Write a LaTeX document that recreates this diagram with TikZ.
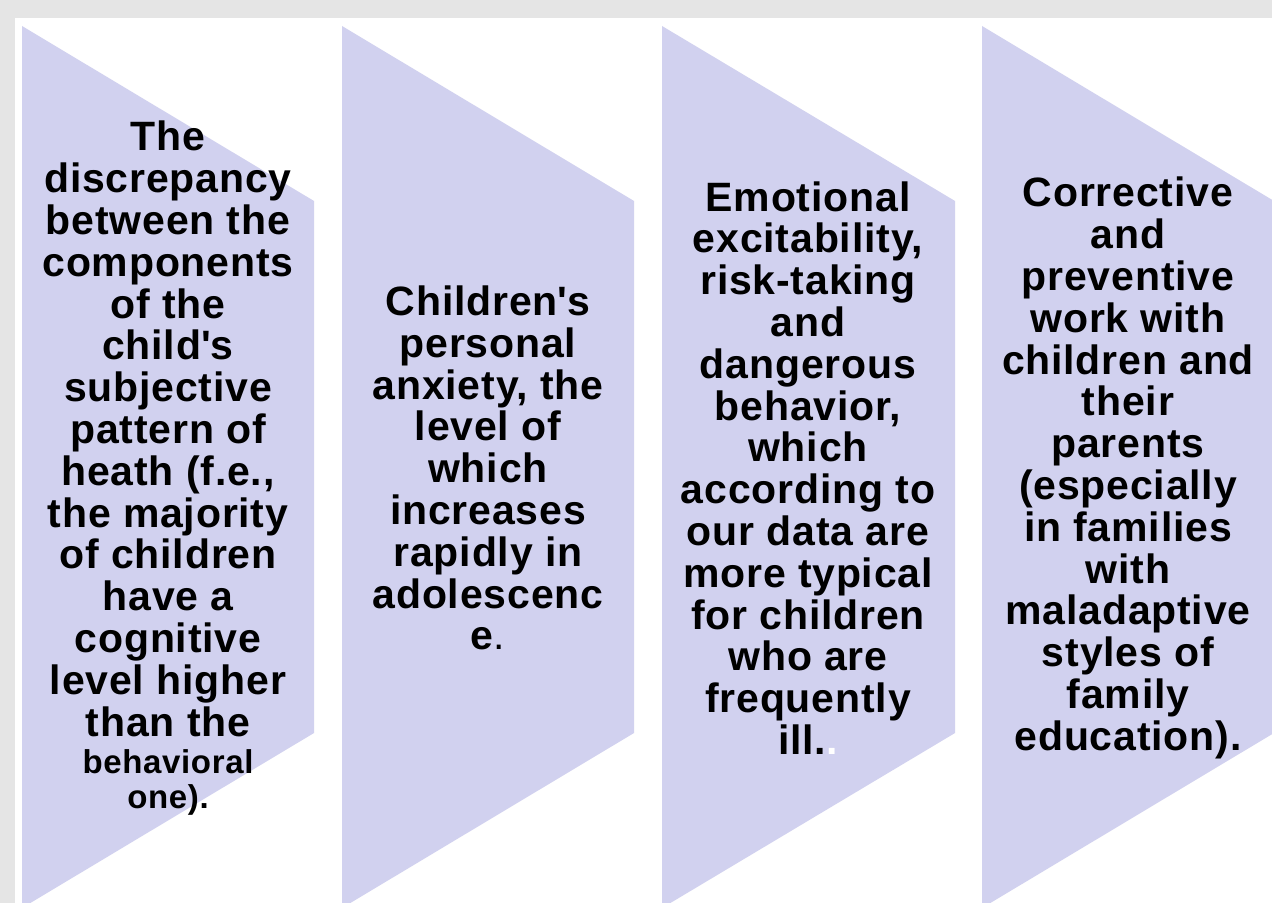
\documentclass[tikz,border=0pt]{standalone}
\usepackage{fontspec}
\setmainfont{Liberation Sans}[LetterSpace=2.0]
\definecolor{chevfill}{RGB}{209,209,239}
\definecolor{framegray}{RGB}{229,229,229}
\newcommand{\smalltxt}{\fontsize{16.5pt}{17.5pt}\selectfont}

\begin{document}
\begin{tikzpicture}[x=0.5pt,y=-0.5pt]
  \tikzset{
    chev/.style={fill=chevfill},
    txt/.style={font=\bfseries\fontsize{20.5pt}{20.9pt}\selectfont, align=center, inner sep=0pt, node distance=160pt},
  }
  \useasboundingbox (0,0) rectangle (1272,903);
  \clip (0,0) rectangle (1272,903);
  \fill [framegray] (0,0) rectangle (1272,903);
  \fill [white] (15,18) rectangle (1272,903);

  \fill [chev] (22,26) -- (314,201) -- (314,733) -- (22,908) -- cycle;
  \fill [chev] (342,26) -- (634,201) -- (634,733) -- (342,908) -- cycle;
  \fill [chev] (662,26) -- (955,201) -- (955,733) -- (662,908) -- cycle;
  \fill [chev] (982,26) -- (1274,201) -- (1274,733) -- (982,908) -- cycle;

  \node [txt] (discr) at (168,468) {The\\ discrepancy\\ between the\\ components\\ of the\\ child\textquotesingle s\\ subjective\\ pattern of\\ heath (f.e.,\\ the majority\\ of children\\ have a\\ cognitive\\ level higher\\ than the\\[-2.4pt] {\smalltxt behavioral}\\[-3.4pt] {\smalltxt one).}};
  \node [txt, right of = discr] (anxiety) {Children\textquotesingle s\\ personal\\ anxiety, the\\ level of\\ which\\ increases\\ rapidly in\\ adolescenc\\ e{\mdseries .}};
  \node [txt, right of = anxiety] (excite) {Emotional\\ excitability,\\ risk-taking\\ and\\ dangerous\\ behavior,\\ which\\ according to\\ our data are\\ more typical\\ for children\\ who are\\ frequently\\ ill.{\color{white}.}};
  \node [txt, right of = excite] (correct) {Corrective\\ and\\ preventive\\ work with\\ children and\\ their\\ parents\\ (especially\\ in families\\ with\\ maladaptive\\ styles of\\ family\\ education).};
\end{tikzpicture}
\end{document}
